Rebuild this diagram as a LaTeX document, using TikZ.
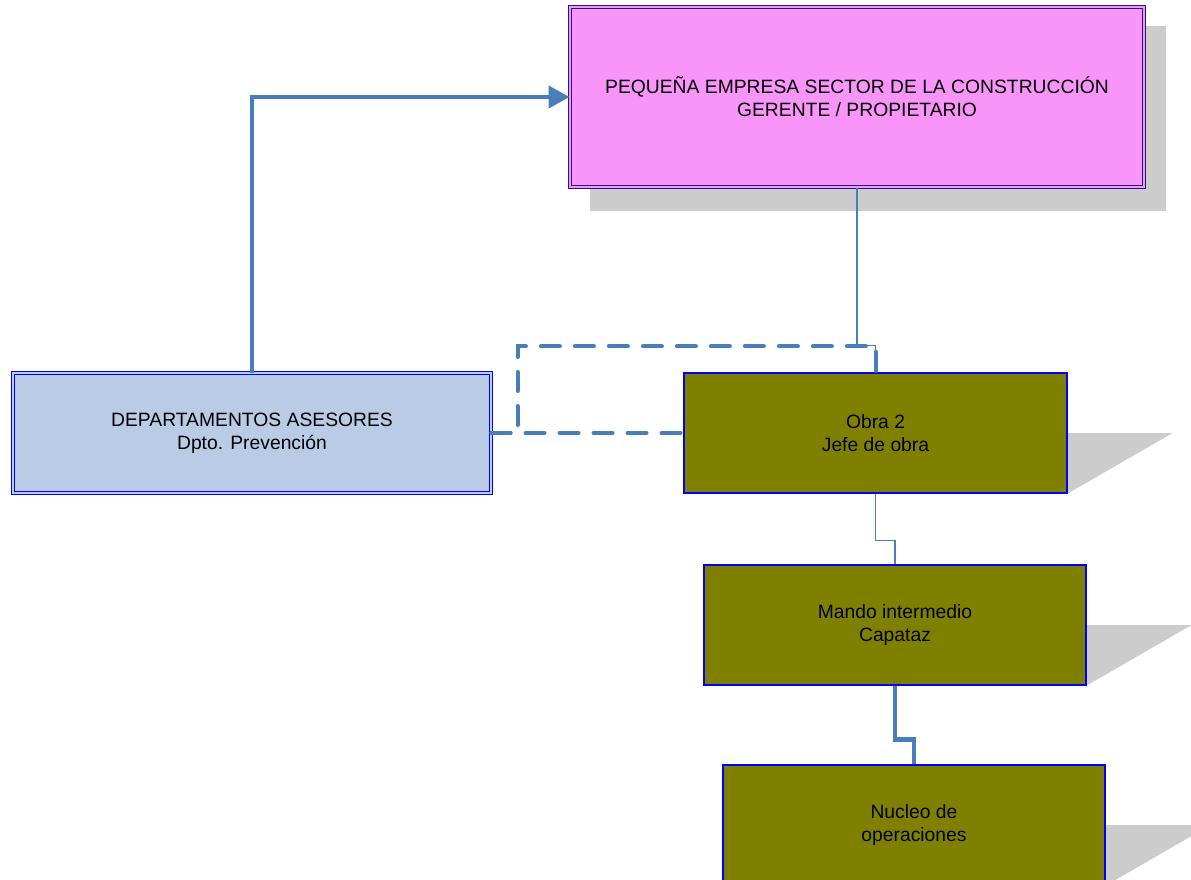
\documentclass[tikz,border=0pt]{standalone}
\usepackage{fontspec}
\setmainfont{Liberation Sans}
\usetikzlibrary{arrows.meta,calc,backgrounds}
\definecolor{conn}{HTML}{4A7EBB}
\definecolor{pinkfill}{HTML}{F995F9}
\definecolor{navy}{HTML}{1A1A80}
\definecolor{bluefill}{HTML}{B9CBE5}
\definecolor{olivefill}{HTML}{808000}
\definecolor{shadowgray}{HTML}{CCCCCC}
\tikzset{
  boxtext/.style={align=center,font=\fontsize{19.3}{23}\selectfont,inner sep=0pt},
  topbox/.style={boxtext,draw=navy,line width=1pt,double=pinkfill,double distance=2.5pt,fill=pinkfill,minimum width=574pt,minimum height=180pt},
  deptbox/.style={boxtext,draw=blue,line width=1pt,double=bluefill,double distance=2.5pt,fill=bluefill,minimum width=478pt,minimum height=120pt},
  olivebox/.style={boxtext,draw=blue,line width=1.2pt,fill=olivefill,minimum width=382pt,minimum height=120pt},
  thinconn/.style={draw=conn,line width=1.5pt},
  thickconn/.style={draw=conn,line width=4.5pt},
  dashconn/.style={draw=conn,line width=4pt,line cap=round,dash pattern=on 19pt off 15pt},
  shadowfill/.style={fill=shadowgray,draw=none}
}
\begin{document}
\begin{tikzpicture}[x=1pt,y=-1pt]
\useasboundingbox (0,0) rectangle (1191,880);
\clip (0,0) rectangle (1191,880);
\node[topbox] (top) at (857,97) {PEQUEÑA EMPRESA SECTOR DE LA CONSTRUCCIÓN\\GERENTE / PROPIETARIO};
\node[deptbox] (dept) at (252,433) {DEPARTAMENTOS ASESORES\\Dpto. Prevención};
\node[olivebox,minimum width=383pt] (obra) at (875.5,433) {Obra 2\\Jefe de obra};
\node[olivebox] (mando) at (895,625) {Mando intermedio\\Capataz};
\node[olivebox] (nucleo) at (914,825) {Nucleo de\\operaciones};
\begin{pgfonlayer}{background}
\fill[shadowfill] ($(top.north west)+(20,20)$) rectangle ($(top.south east)+(21,23)$);
\fill[shadowfill] (obra.east) -- ++(105,0) -- (obra.south east) -- cycle;
\fill[shadowfill] (mando.east) -- ++(105,0) -- (mando.south east) -- cycle;
\fill[shadowfill] (nucleo.east) -- ++(105,0) -- (nucleo.south east) -- cycle;
\end{pgfonlayer}
\draw[thickconn,-{Triangle[length=21pt,width=22pt]}] (dept.north) |- (top.west);
\draw[thinconn] (top.south) -- ++(0,158) -| (obra.north);
\draw[dashconn] (dept.east) -- (obra.west);
\draw[dashconn] (dept.east) -- ++(26,0) |- ($(obra.north)+(0,-26)$) -- (obra.north);
\draw[thinconn] (obra.south) -- ++(0,47) -| (mando.north);
\draw[thickconn] (mando.south) -- ++(0,54) -| (nucleo.north);
\end{tikzpicture}
\end{document}
